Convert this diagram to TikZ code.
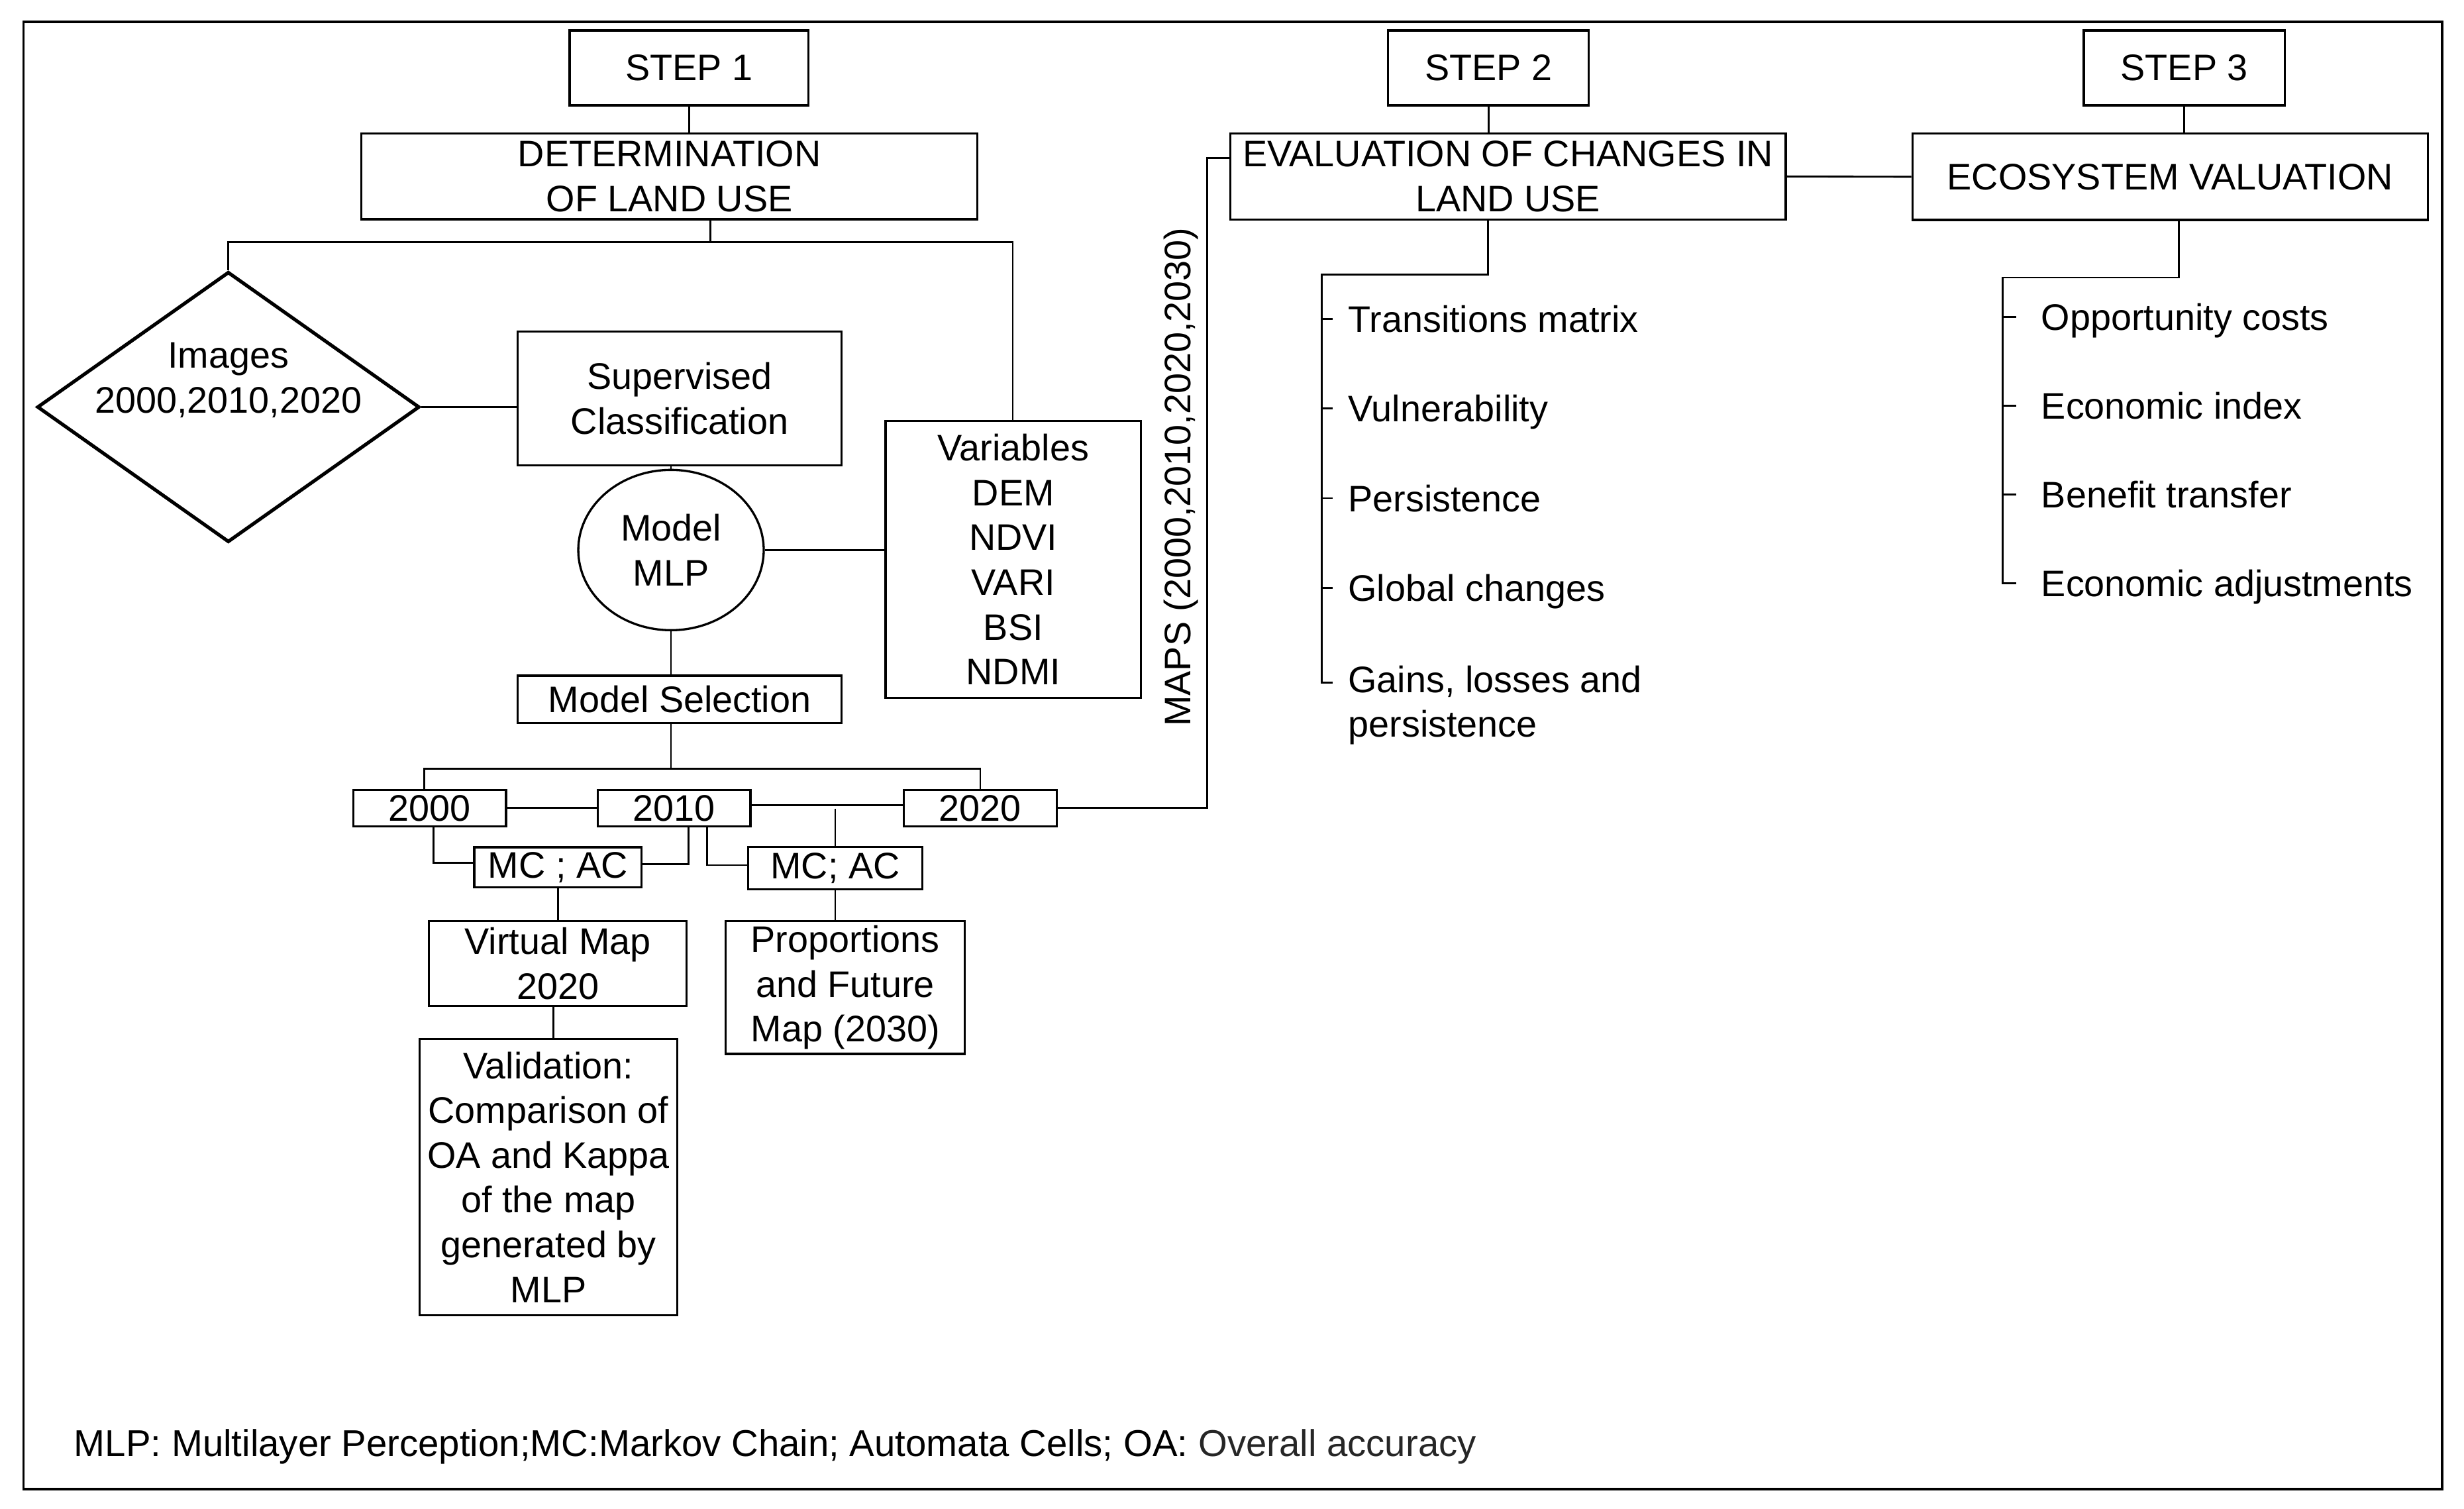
\documentclass[tikz,border=0pt]{standalone}
\usepackage{fontspec}
\setmainfont{Liberation Sans}
\usetikzlibrary{shapes.geometric,calc}
\begin{document}
\begin{tikzpicture}[x=1pt,y=-1pt,
  every node/.style={font=\fontsize{23.5}{28.5}\selectfont, inner sep=0pt, align=center},
  box/.style={draw, line width=1.4pt, rectangle},
  conn/.style={line width=1.2pt},
  item/.style={anchor=west, text height=17pt, text depth=0pt, align=left}]
\useasboundingbox (0,0) rectangle (1568,959.8);
\draw[line width=1.6pt] (15,14) rectangle (1554,947.6);

% STEP 1 column
\node[box, minimum width=152pt, minimum height=47.6pt] (s1) at (438.5,43.2) {STEP 1};
\node[box, minimum width=392pt, minimum height=54.5pt] (det) at (426,112.3) {DETERMINATION\\OF LAND USE};
\node[diamond, draw, line width=2.2pt, minimum width=243.3pt, minimum height=172pt, aspect=1.41] (img) at (145.3,259) {};
\node (imgt) at (145.3,242) {Images\\2000,2010,2020};
\node[box, minimum width=206pt, minimum height=85pt] (sup) at (432.5,253.5) {Supervised\\Classification};
\node[ellipse, draw, line width=1.4pt, minimum width=118pt, minimum height=102pt] (mlp) at (427,350) {Model\\MLP};
\node[box, minimum width=162.5pt, minimum height=176pt] (var) at (644.8,356) {Variables\\DEM\\NDVI\\VARI\\BSI\\NDMI};
\node[box, minimum width=206pt, minimum height=30pt] (msel) at (432.5,445) {Model Selection};
\node[box, minimum width=97pt, minimum height=23pt] (y2000) at (273.5,514.2) {2000};
\node[box, minimum width=97pt, minimum height=23pt] (y2010) at (429,514.2) {2010};
\node[box, minimum width=97.5pt, minimum height=23pt] (y2020) at (623.8,514.2) {2020};
\node[box, minimum width=106.5pt, minimum height=25.5pt] (mc1) at (355,551.8) {MC ; AC};
\node[box, minimum width=111pt, minimum height=27pt] (mc2) at (531.5,552.5) {MC; AC};
\node[box, minimum width=164pt, minimum height=54pt] (vmap) at (355,613) {Virtual Map\\2020};
\node[box, minimum width=164pt, minimum height=176pt] (valid) at (349,749) {Validation:\\Comparison of\\OA and Kappa\\of the map\\generated by\\MLP};
\node[box, minimum width=152.3pt, minimum height=84.6pt] (prop) at (537.9,628.3) {Proportions\\and Future\\Map (2030)};

% STEP 2 / STEP 3
\node[box, minimum width=127.7pt, minimum height=47.6pt] (s2) at (947.2,43.2) {STEP 2};
\node[box, minimum width=353.6pt, minimum height=54.6pt] (eval) at (959.6,112.3) {EVALUATION OF CHANGES IN\\LAND USE};
\node[box, minimum width=127.8pt, minimum height=47.6pt] (s3) at (1390,43.2) {STEP 3};
\node[box, minimum width=328pt, minimum height=55pt] (eco) at (1381,112.5) {ECOSYSTEM VALUATION};
\node[rotate=90] (maps) at (751.5,303.5) {MAPS (2000,2010,2020,2030)};

% items step 2
\node[item] (t1) at (857.8,203) {Transitions matrix};
\node[item] (t2) at (857.8,259.7) {Vulnerability};
\node[item] (t3) at (857.8,317) {Persistence};
\node[item] (t4) at (857.8,374) {Global changes};
\coordinate (g5) at (857.8,434.5);
\node[anchor=north west, align=left] (t5) at (857.8,423.3) {Gains, losses and\\persistence};
% items step 3
\node[item] (u1) at (1298.8,201.6) {Opportunity costs};
\node[item] (u2) at (1298.8,258) {Economic index};
\node[item] (u3) at (1298.8,314.5) {Benefit transfer};
\node[item] (u4) at (1298.8,371) {Economic adjustments};

\node[anchor=base west, align=left, font=\fontsize{23.75}{28.5}\selectfont] (foot) at (47,926.5) {MLP: Multilayer Perception;MC:Markov Chain; Automata Cells; OA: \textcolor{black!85}{Overall accuracy}};

% connectors
\begin{scope}[conn]
\draw (s1.south) -- (s1.south |- det.north);
\coordinate (jA) at (452,154);
\coordinate (jL) at (145.3,154);
\coordinate (jR) at (644.5,154);
\draw (det.south -| jA) -- (jA);
\draw (img.north) -- (jL) -- (jR) -- (jR |- var.north);
\draw (img.east) -- (img.east -| sup.west);
\draw (mlp.north |- sup.south) -- (mlp.north);
\draw (mlp.east) -- (mlp.east -| var.west);
\draw (mlp.south) -- (mlp.south |- msel.north);
\coordinate (jB) at (427,489);
\draw (msel.south -| jB) -- (jB);
\draw (y2000.north -| 270,0) -- (jB -| 270,0) -- (jB -| y2020.north) -- (y2020.north);
\draw (y2000) -- (y2010);
\draw (y2010.east |- 0,512.5) -- (y2020.west |- 0,512.5);
\draw (mc2.north |- 0,514.5) -- (mc2.north);
\coordinate (ca) at (275.7,549);
\draw (ca |- y2000.south) -- (ca) -- (ca -| mc1.west);
\coordinate (cb) at (438,550);
\draw (cb |- y2010.south) -- (cb) -- (cb -| mc1.east);
\coordinate (cc) at (450,550.5);
\draw (cc |- y2010.south) -- (cc) -- (cc -| mc2.west);
\draw (mc1.south) -- (mc1.south |- vmap.north);
\coordinate (cd) at (352,650);
\draw (cd |- vmap.south) -- (cd |- valid.north);
\draw (mc2.south) -- (mc2.south |- prop.north);
\coordinate (mB) at (768.2,514.2);
\coordinate (mT) at (768.2,100.6);
\draw (y2020.east) -- (mB) -- (mT) -- (mT -| eval.west);
\draw (s2.south) -- (s2.south |- eval.north);
\draw (eval.east) -- (eco.west);
\draw (s3.south) -- (s3.south |- eco.north);
% step 2 tree
\coordinate (e1) at (947,174.8);
\coordinate (e2) at (841,174.8);
\coordinate (ek) at (848,174.8);
\draw (e1 |- eval.south) -- (e1) -- (e2) -- (e2 |- g5) -- (ek |- g5);
\foreach \t in {t1,t2,t3,t4} \draw (e2 |- \t.west) -- (ek |- \t.west);
% step 3 tree
\coordinate (f1) at (1386.4,176.6);
\coordinate (f2) at (1274.5,176.6);
\coordinate (fk) at (1283,176.6);
\draw (f1 |- eco.south) -- (f1) -- (f2) -- (f2 |- u4.west) -- (fk |- u4.west);
\foreach \t in {u1,u2,u3} \draw (f2 |- \t.west) -- (fk |- \t.west);
\end{scope}
\end{tikzpicture}
\end{document}
